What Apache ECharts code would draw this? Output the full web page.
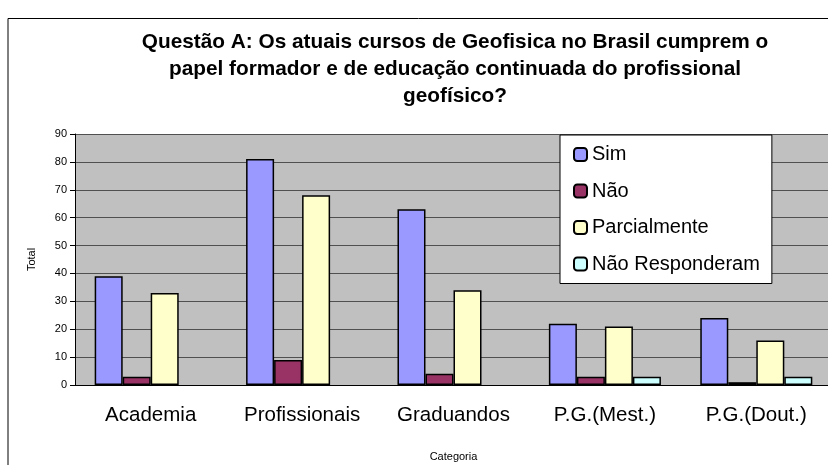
<!DOCTYPE html>
<html>
<head>
<meta charset="utf-8">
<script src="https://cdn.jsdelivr.net/npm/echarts@6/dist/echarts.min.js"></script>
<style>
  html, body { margin: 0; padding: 0; background: #fff; }
  #chart { width: 828px; height: 465px; }
</style>
</head>
<body>
<div id="chart"></div>
<script>
// dados
var categorias = ['Academia', 'Profissionais', 'Graduandos', 'P.G.(Mest.)', 'P.G.(Dout.)'];
var sim = [39, 81, 63, 22, 24];
var nao = [3, 9, 4, 3, 1];
var parcialmente = [33, 68, 34, 21, 16];
var naoResponderam = [0, 0, 0, 3, 3];
var yTicks = [0, 10, 20, 30, 40, 50, 60, 70, 80, 90];

var myChart = echarts.init(document.getElementById('chart'));
var fonte = 'Arial, "Liberation Sans", sans-serif';

function serie(nome, dados, cor) {
    // barras com valor zero nao aparecem no original
    var pontos = dados.map(function (v) {
        if (v === 0) {
            return { value: v, itemStyle: { borderWidth: 0 } };
        }
        return v;
    });
    return {
        name: nome,
        type: 'bar',
        data: pontos,
        barGap: 0,
        barCategoryGap: '26%',
        itemStyle: { color: cor, borderColor: '#000', borderWidth: 1.5 },
        emphasis: { disabled: true }
    };
}

var option = {
    backgroundColor: '#fff',
    animation: false,
    title: {
        text: 'Questão A: Os atuais cursos de Geofisica no Brasil cumprem o\npapel formador e de educação continuada do profissional\ngeofísico?',
        left: 450,
        top: 24,
        textAlign: 'center',
        textStyle: { fontFamily: fonte, fontSize: 20.8, fontWeight: 'bold', color: '#000', lineHeight: 27, align: 'center' }
    },
    graphic: [
        { type: 'polyline', shape: { points: [[8, 470], [8, 18.5], [830, 18.5]] }, style: { stroke: '#000', lineWidth: 1, fill: null }, z: 100 }
    ],
    legend: {
        orient: 'vertical',
        left: 560,
        top: 135,
        padding: [9.5, 12, 9.5, 13],
        itemGap: 16.5,
        itemWidth: 13,
        itemHeight: 13,
        backgroundColor: '#fff',
        borderColor: '#000',
        borderWidth: 1,
        textStyle: { fontFamily: fonte, fontSize: 20, color: '#000', lineHeight: 20 },
        data: ['Sim', 'Não', 'Parcialmente', 'Não Responderam']
    },
    grid: {
        left: 75, right: -4, top: 134, bottom: 80,
        outerBoundsMode: 'none',
        show: true, backgroundColor: '#c0c0c0', borderWidth: 0
    },
    xAxis: {
        type: 'category',
        data: categorias,
        name: 'Categoria',
        nameLocation: 'middle',
        nameGap: 66,
        nameTextStyle: { fontFamily: fonte, fontSize: 11, color: '#000' },
        axisLine: { lineStyle: { color: '#000', width: 1 } },
        axisTick: { lineStyle: { color: '#000' }, length: 5 },
        axisLabel: { fontFamily: fonte, fontSize: 20.5, color: '#000', margin: 20, interval: 0, hideOverlap: false }
    },
    yAxis: {
        type: 'value',
        min: yTicks[0],
        max: yTicks[yTicks.length - 1],
        interval: 10,
        name: 'Total',
        nameLocation: 'middle',
        nameGap: 38,
        nameTextStyle: { fontFamily: fonte, fontSize: 11, color: '#000' },
        axisLine: { show: true, lineStyle: { color: '#000', width: 1 } },
        axisTick: { show: true, lineStyle: { color: '#000' }, length: 5 },
        axisLabel: { fontFamily: fonte, fontSize: 11, color: '#000', margin: 8 },
        splitLine: { lineStyle: { color: '#505050', width: 1 } }
    },
    series: [
        serie('Sim', sim, '#9999ff'),
        serie('Não', nao, '#993366'),
        serie('Parcialmente', parcialmente, '#ffffcc'),
        serie('Não Responderam', naoResponderam, '#ccffff')
    ]
};

myChart.setOption(option);
</script>
</body>
</html>
